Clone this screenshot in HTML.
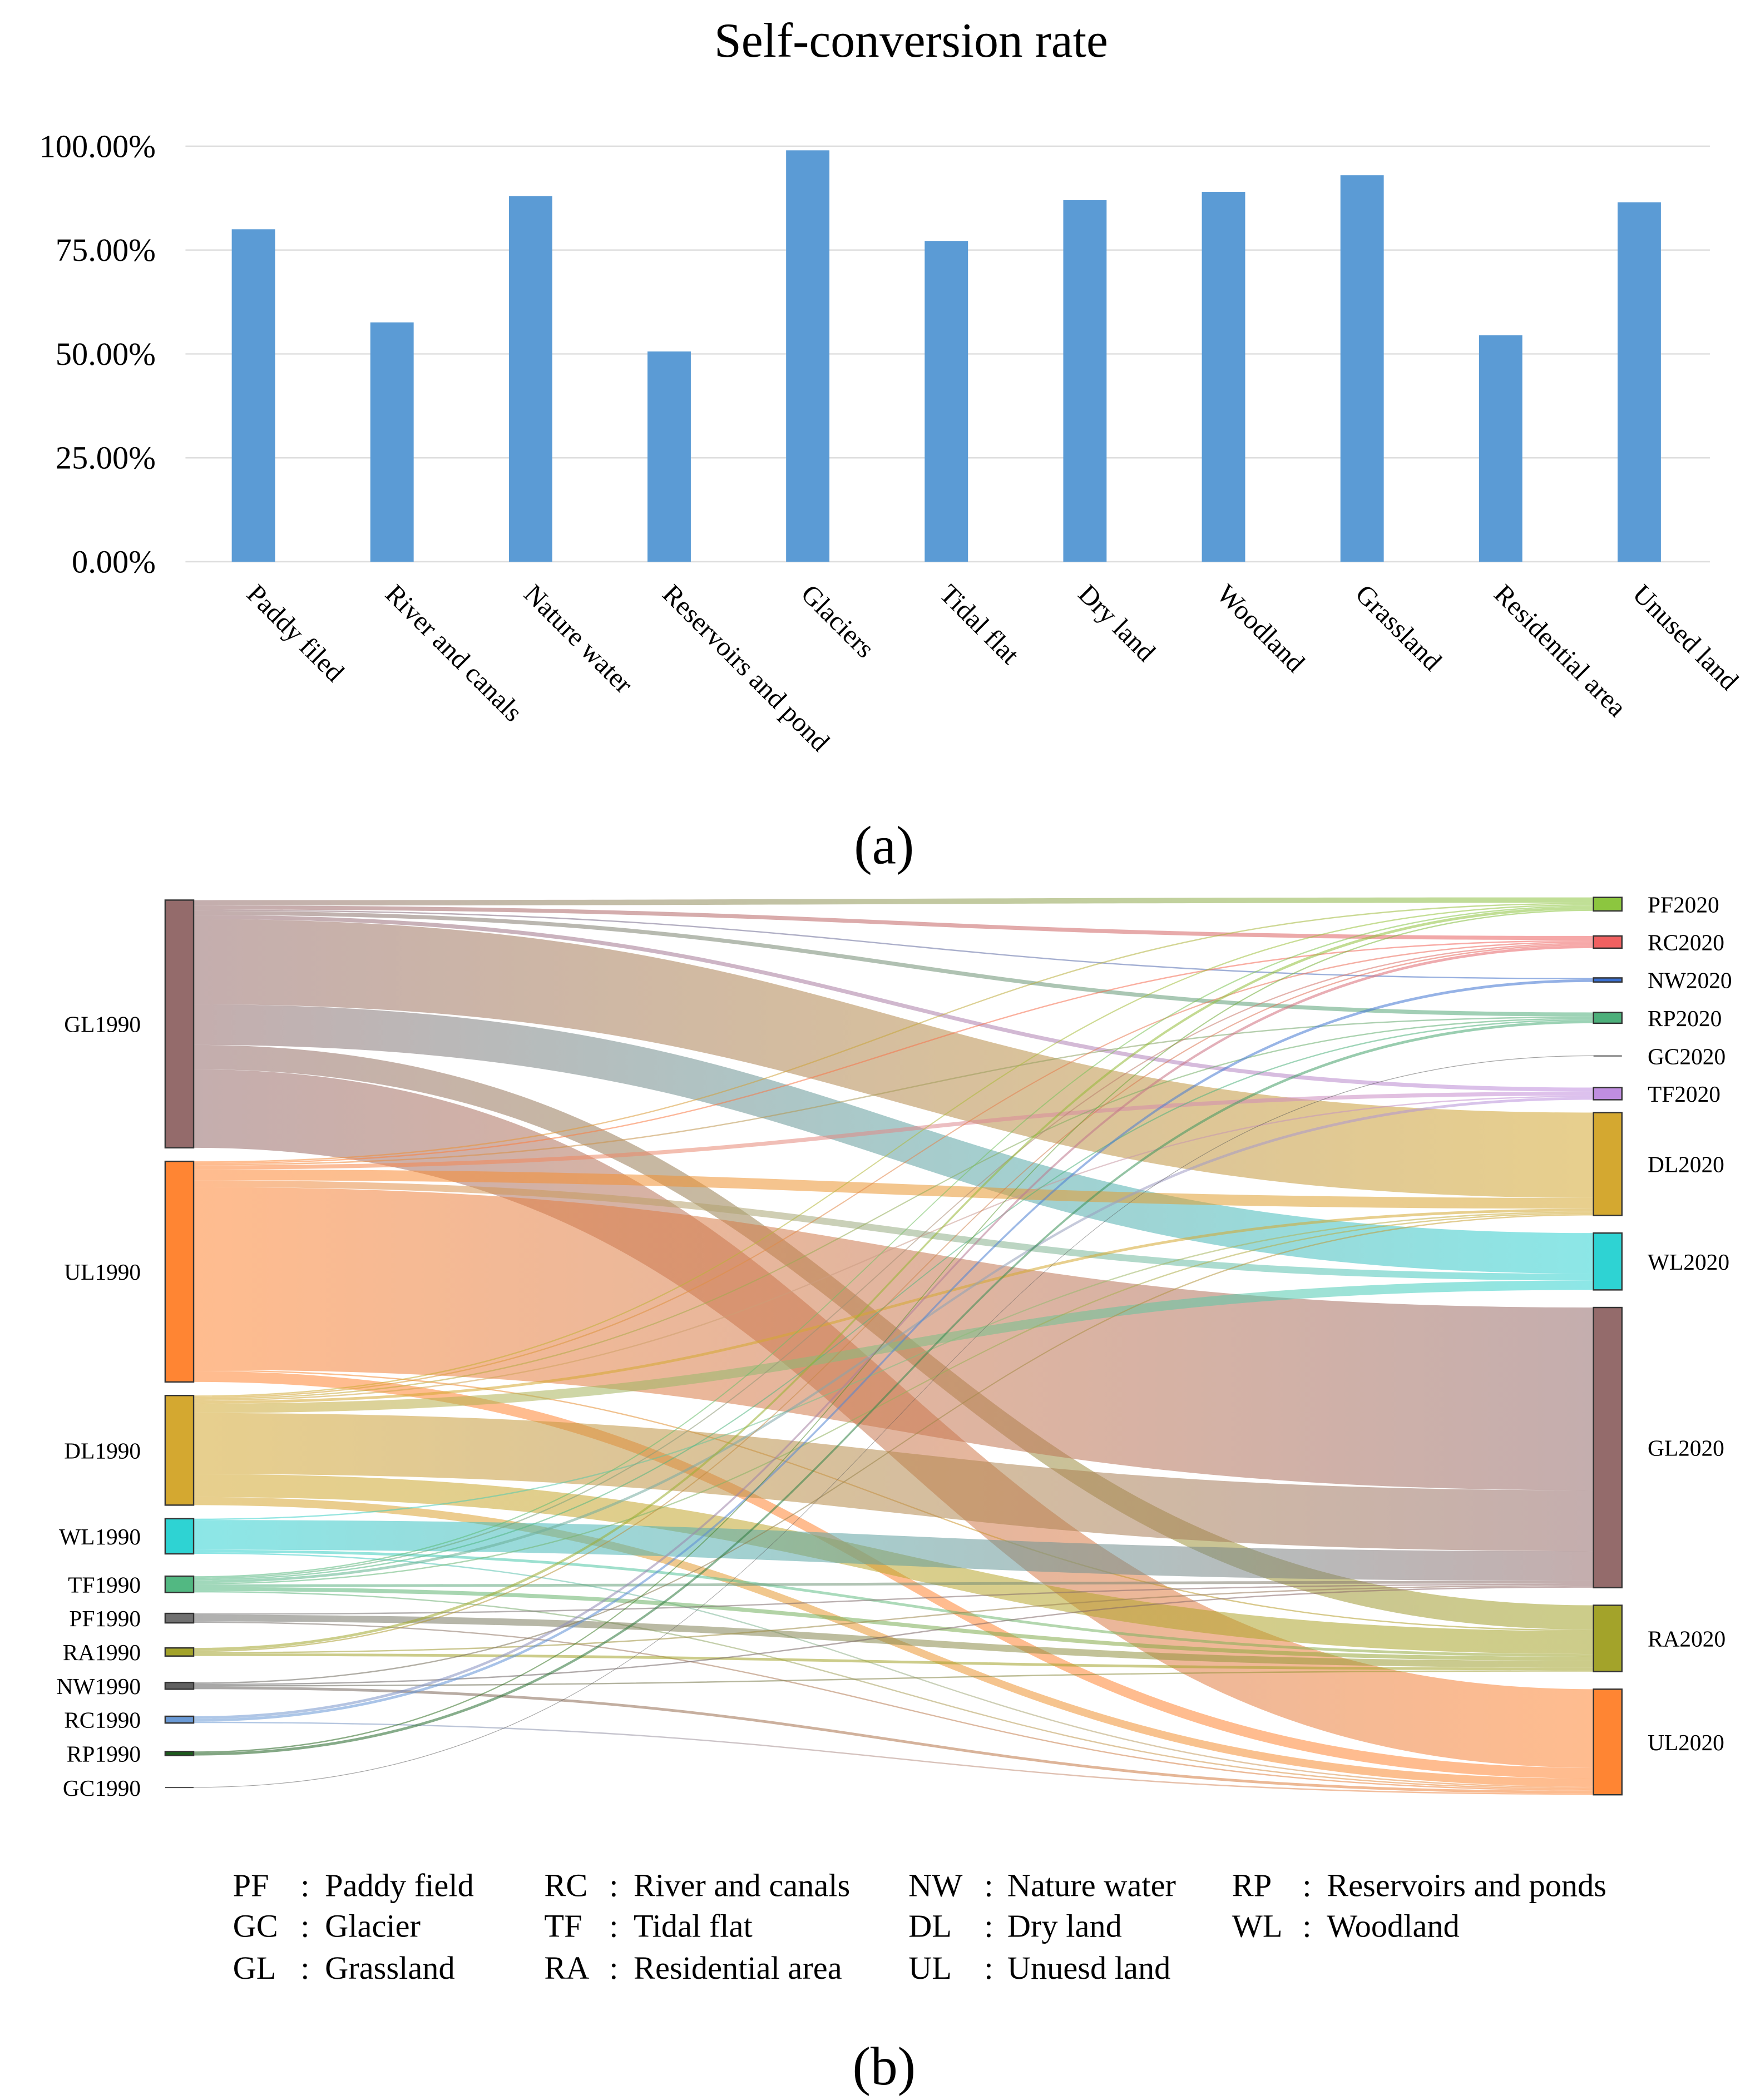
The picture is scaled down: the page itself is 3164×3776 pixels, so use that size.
<!DOCTYPE html>
<html><head><meta charset="utf-8">
<style>
html,body{margin:0;padding:0;background:#fff;}
svg{display:block;font-family:"Liberation Serif",serif;}
</style></head>
<body>
<svg id="root" width="3164" height="3776" viewBox="0 0 1300 1551.5" preserveAspectRatio="none" xmlns="http://www.w3.org/2000/svg">
<defs id="defs"></defs>
<text x="673" y="42" font-size="36" text-anchor="middle">Self-conversion rate</text>
<g id="bars"></g>
<text x="653" y="638" font-size="40" text-anchor="middle">(a)</text>
<g id="sankey"></g>
<g id="legend" font-size="24"></g>
<text x="653" y="1540" font-size="40" text-anchor="middle">(b)</text>
</svg>
<script>
const NS="http://www.w3.org/2000/svg";
// ---- Bar chart data ----
const categories=["Paddy filed","River and canals","Nature water","Reservoirs and pond","Glaciers","Tidal flat","Dry land","Woodland","Grassland","Residential area","Unused land"];
const rates=[80.0,57.6,88.0,50.6,99.0,77.2,87.0,89.0,93.0,54.5,86.5];
const yTicks=[0,25,50,75,100];
const yTickLabels=["0.00%","25.00%","50.00%","75.00%","100.00%"];
// ---- Sankey data ----
const leftNodes=["GL1990","UL1990","DL1990","WL1990","TF1990","PF1990","RA1990","NW1990","RC1990","RP1990","GC1990"];
const rightNodes=["PF2020","RC2020","NW2020","RP2020","GC2020","TF2020","DL2020","WL2020","GL2020","RA2020","UL2020"];
const leftColors=["#946b6b","#ff8533","#d4a830","#2ed3d3","#52b882","#707070","#a3a32a","#606060","#6a9ad6","#1c5c1c","#555555"];
const rightColors=["#8cc63f","#f06060","#3a6fd0","#4caf7a","#555555","#c08ee0","#d4a830","#2ed3d3","#946b6b","#a3a32a","#ff8533"];
// flows[source] = values to each right node (order of rightNodes)
const flowGL=[4,3,1,3,0,3,63,30,0,18,58];
const flowUL=[1,1,0,1,0,3,8,5,135,1,8];
const flowDL=[1,1,0,1,0,1,2,7,45,17,6];
const flowWL=[0,0,0,0,0,0,1,0,22,2,1];
const flowTF=[1,1,0,1,0,2,1,0,2,3,1];
const flowPF=[0,0,0,0,0,0,0,0,1,5,1];
const flowRA=[2,1,0,0,0,0,0,0,1,2,0];
const flowNW=[0,0,0,0,0,0,1,0,1,1,2];
const flowRC=[0,2,2,0,0,0,0,0,0,0,1];
const flowRP=[1,0,0,2,0,0,0,0,0,0,0];
const flowGC=[0,0,0,0,0.5,0,0,0,0,0,0];
const flows=[flowGL,flowUL,flowDL,flowWL,flowTF,flowPF,flowRA,flowNW,flowRC,flowRP,flowGC];
const legendItems=[["PF","Paddy field"],["RC","River and canals"],["NW","Nature water"],["RP","Reservoirs and ponds"],["GC","Glacier"],["TF","Tidal flat"],["DL","Dry land"],["WL","Woodland"],["GL","Grassland"],["RA","Residential area"],["UL","Unuesd land"]];

function mk(tag,attrs,parent){const e=document.createElementNS(NS,tag);for(const k in attrs)e.setAttribute(k,attrs[k]);if(parent)parent.appendChild(e);return e;}

// ---- Bar chart ----
const bars=document.getElementById('bars');
const px0=137,px1=1263,py0=415,py1=108;
const yS=v=>py0-(v/100)*(py0-py1);
const band=(px1-px0)/categories.length;
const xS=i=>px0+band*(i+0.5)-1;
yTicks.forEach((t,i)=>{
  const g=mk('line',{x1:px0,x2:px1,y1:yS(t),y2:yS(t),stroke:'#dedede','stroke-width':1},bars);
  
  
  const tx=mk('text',{x:115,y:yS(t)+8,'font-size':24,'text-anchor':'end'},bars);
  tx.textContent=yTickLabels[i];
  
  
});
categories.forEach((c,i)=>{
  const cx=xS(i);
  const r=mk('rect',{x:cx-16,y:yS(rates[i]),width:32,height:py0-yS(rates[i]),fill:'#5b9bd5'},bars);
  
  
  const t=mk('text',{x:cx-6,y:440,'font-size':20,transform:`rotate(45 ${cx-6} 440)`},bars);
  t.textContent=c;
  
  
});

// ---- Sankey ----
const sk=document.getElementById('sankey');
const defs=document.getElementById('defs');
const LX0=122,LX1=143,RX0=1177,RX1=1198;
const leftVals=flows.map(f=>f.reduce((a,b)=>a+b,0));
const rightVals=rightNodes.map((_,j)=>flows.reduce((a,f)=>a+f[j],0));
function layout(vals,top,gap,slot){
  const ys=[];let y=top;
  vals.forEach(v=>{
    if(v<15){ys.push(y+(slot-v)/2);y+=slot;}
    else{ys.push(y);y+=v+gap;}
  });return ys;
}
const leftY=layout(leftVals,665,10,25);
const rightY=layout(rightVals,654,13,28);
// compute target offsets in source order
const tgtStart=[];
flows.forEach((f,i)=>{tgtStart[i]=[];});
for(let j=0;j<rightNodes.length;j++){let y=rightY[j];for(let i=0;i<flows.length;i++){tgtStart[i][j]=y;y+=flows[i][j];}}
flows.forEach((f,i)=>{
  let sy=leftY[i];
  f.forEach((v,j)=>{
    if(v<=0){return;}
    const ty=tgtStart[i][j];
    const id='g'+i+'_'+j;
    const lg=mk('linearGradient',{id:id,gradientUnits:'userSpaceOnUse',x1:LX1,x2:RX0,y1:0,y2:0},defs);
    mk('stop',{offset:'0','stop-color':leftColors[i]},lg);
    mk('stop',{offset:'1','stop-color':rightColors[j]},lg);
    const mx=(LX1+RX0)/2;
    const d=`M${LX1},${sy} C${mx},${sy} ${mx},${ty} ${RX0},${ty} L${RX0},${ty+v} C${mx},${ty+v} ${mx},${sy+v} ${LX1},${sy+v} Z`;
    const p=mk('path',{d:d,fill:`url(#${id})`,'fill-opacity':0.55},sk);
    
    
    sy+=v;
  });
});
function drawNodes(names,vals,ys,x0,x1,cols,side){
  names.forEach((n,i)=>{
    const h=Math.max(vals[i],0.8);
    const r=mk('rect',{x:x0,y:ys[i],width:x1-x0,height:h,fill:cols[i],stroke:'#333','stroke-width':vals[i]<1?0:1},sk);
    if(vals[i]<1){r.setAttribute('fill','#444');}
    
    
    const t=mk('text',{x:side==='l'?104:1217,y:ys[i]+h/2+6,'font-size':17,'text-anchor':side==='l'?'end':'start'},sk);
    t.textContent=n;
    
    
  });
}
drawNodes(leftNodes,leftVals,leftY,LX0,LX1,leftColors,'l');
drawNodes(rightNodes,rightVals,rightY,RX0,RX1,rightColors,'r');

// ---- Legend ----
const lgd=document.getElementById('legend');
const colX=[172,402,671,910],colC=[222,450,727,962],colN=[240,468,744,980],rowY=[1401,1431,1462];
legendItems.forEach((it,k)=>{
  const c=k%4,r=Math.floor(k/4);
  const a=mk('text',{x:colX[c],y:rowY[r]},lgd);a.textContent=it[0];
  
  
  const b=mk('text',{x:colC[c],y:rowY[r]},lgd);b.textContent=':';
  
  
  const n=mk('text',{x:colN[c],y:rowY[r]},lgd);n.textContent=it[1];
  
  
});
</script>
</body></html>
